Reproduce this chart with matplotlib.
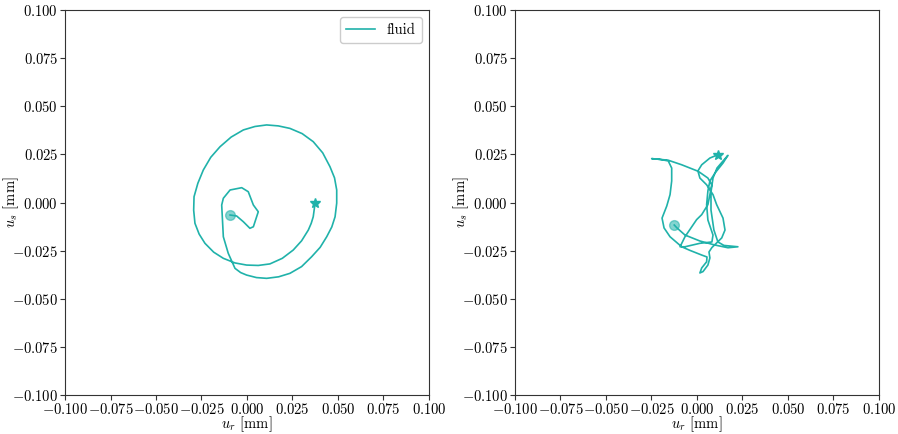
import matplotlib
matplotlib.use("Agg")
import matplotlib.pyplot as plt

plt.rcParams['font.family'] = 'serif'
plt.rcParams['font.serif'] = ['cmr10']
plt.rcParams['mathtext.fontset'] = 'cm'
plt.rcParams['font.size'] = 10.5

# displacement trajectories (mm), first point = start (circle), last = end (star)
ur_left = [-0.0093, -0.0057, -0.0020, 0.0016, 0.0035, 0.0062, 0.0035, 0.0007,
           -0.0029, -0.0093, -0.0130, -0.0139, -0.0130, -0.0103, -0.0066, -0.0035,
           -0.0002, 0.0052, 0.0108, 0.0174, 0.0236, 0.0300, 0.0355, 0.0402,
           0.0438, 0.0466, 0.0484, 0.0493, 0.0493, 0.0481, 0.0456, 0.0416,
           0.0364, 0.0303, 0.0236, 0.0172, 0.0108, 0.0044, -0.0020, -0.0087,
           -0.0148, -0.0199, -0.0240, -0.0270, -0.0291, -0.0293, -0.0286, -0.0263,
           -0.0231, -0.0183, -0.0130, -0.0066, -0.0002, 0.0062, 0.0126, 0.0194,
           0.0254, 0.0300, 0.0337, 0.0353, 0.0364, 0.0374]
us_left = [-0.0065, -0.0070, -0.0100, -0.0134, -0.0126, -0.0048, -0.0013, 0.0056,
           0.0077, 0.0065, 0.0022, -0.0013, -0.0178, -0.0264, -0.0342, -0.0364,
           -0.0377, -0.0390, -0.0394, -0.0386, -0.0368, -0.0333, -0.0282, -0.0233,
           -0.0178, -0.0127, -0.0074, -0.0003, 0.0065, 0.0128, 0.0186, 0.0258,
           0.0316, 0.0358, 0.0385, 0.0398, 0.0403, 0.0395, 0.0377, 0.0340,
           0.0290, 0.0235, 0.0169, 0.0100, 0.0030, -0.0040, -0.0108, -0.0164,
           -0.0212, -0.0258, -0.0290, -0.0314, -0.0325, -0.0327, -0.0319, -0.0290,
           -0.0247, -0.0199, -0.0143, -0.0108, -0.0074, -0.0004]

ur_right = [-0.0125, -0.0110, -0.0066, 0.0016, 0.0099, 0.0170, 0.0225, 0.0148,
            0.0115, 0.0093, 0.0077, 0.0077, 0.0088, 0.0110, 0.0148, 0.0170,
            0.0143, 0.0099, 0.0071, 0.0060, 0.0053, 0.0060, 0.0088, 0.0082,
            0.0016, -0.0066, -0.0093, -0.0066, -0.0002, 0.0026, 0.0060, 0.0071,
            0.0081, 0.0060, 0.0007, -0.0084, -0.0159, -0.0249, -0.0203, -0.0158,
            -0.0139, -0.0139, -0.0148, -0.0166, -0.0192, -0.0181, -0.0148, -0.0084,
            -0.0038, 0.0026, 0.0055, 0.0053, 0.0026, 0.0016, 0.0033, 0.0060,
            0.0071, 0.0066, 0.0082, 0.0108, 0.0136, 0.0154, 0.0143, 0.0108,
            0.0088, 0.0053, 0.0016, 0.0005, 0.0026, 0.0071, 0.0114]
us_right = [-0.0117, -0.0132, -0.0169, -0.0200, -0.0221, -0.0235, -0.0230, -0.0223,
            -0.0205, -0.0143, -0.0039, 0.0055, 0.0127, 0.0179, 0.0221, 0.0245,
            0.0205, 0.0153, 0.0112, 0.0060, -0.0011, -0.0091, -0.0169, -0.0205,
            -0.0212, -0.0230, -0.0230, -0.0178, -0.0089, -0.0063, -0.0011, 0.0041,
            0.0092, 0.0127, 0.0162, 0.0196, 0.0220, 0.0228, 0.0224, 0.0216,
            0.0179, 0.0112, 0.0041, -0.0018, -0.0081, -0.0132, -0.0178, -0.0230,
            -0.0249, -0.0273, -0.0283, -0.0308, -0.0340, -0.0366, -0.0359, -0.0325,
            -0.0288, -0.0257, -0.0234, -0.0210, -0.0184, -0.0143, -0.0081, -0.0011,
            0.0041, 0.0092, 0.0127, 0.0164, 0.0196, 0.0231, 0.0248]

ticks = [-0.1, -0.075, -0.05, -0.025, 0.0, 0.025, 0.05, 0.075, 0.1]
tick_labels = [f'${t:.3f}$' for t in ticks]
color = '#20b2aa'

fig = plt.figure(figsize=(8.98, 4.34), dpi=100)
ax1 = fig.add_axes([0.0724, 0.0899, 0.4053, 0.887])
ax2 = fig.add_axes([0.5735, 0.0899, 0.4053, 0.887])

for ax, ur, us in [(ax1, ur_left, us_left), (ax2, ur_right, us_right)]:
    ax.plot(ur, us, color=color, linewidth=1.2, label='fluid')
    ax.plot(ur[0], us[0], 'o', color=color, alpha=0.55, markersize=7)
    ax.plot(ur[-1], us[-1], '*', color=color, markersize=7)
    ax.set_xlim(-0.1, 0.1)
    ax.set_ylim(-0.1, 0.1)
    ax.set_xticks(ticks)
    ax.set_yticks(ticks)
    ax.set_xticklabels(tick_labels)
    ax.set_yticklabels(tick_labels)
    ax.set_xlabel(r'$u_r$ [mm]')
    ax.set_ylabel(r'$u_s$ [mm]')
    ax.xaxis.set_label_coords(0.5, -0.051)
    ax.yaxis.set_label_coords(-0.122, 0.5)
    ax.tick_params(direction='out', length=3.5, width=0.8, color='#333333', pad=1.5)
    for s in ax.spines.values():
        s.set_color('#333333')
        s.set_linewidth(0.8)

ax1.legend(loc='upper right', fancybox=True, framealpha=1, edgecolor='#cccccc')

fig.savefig('out.png', dpi=100)
